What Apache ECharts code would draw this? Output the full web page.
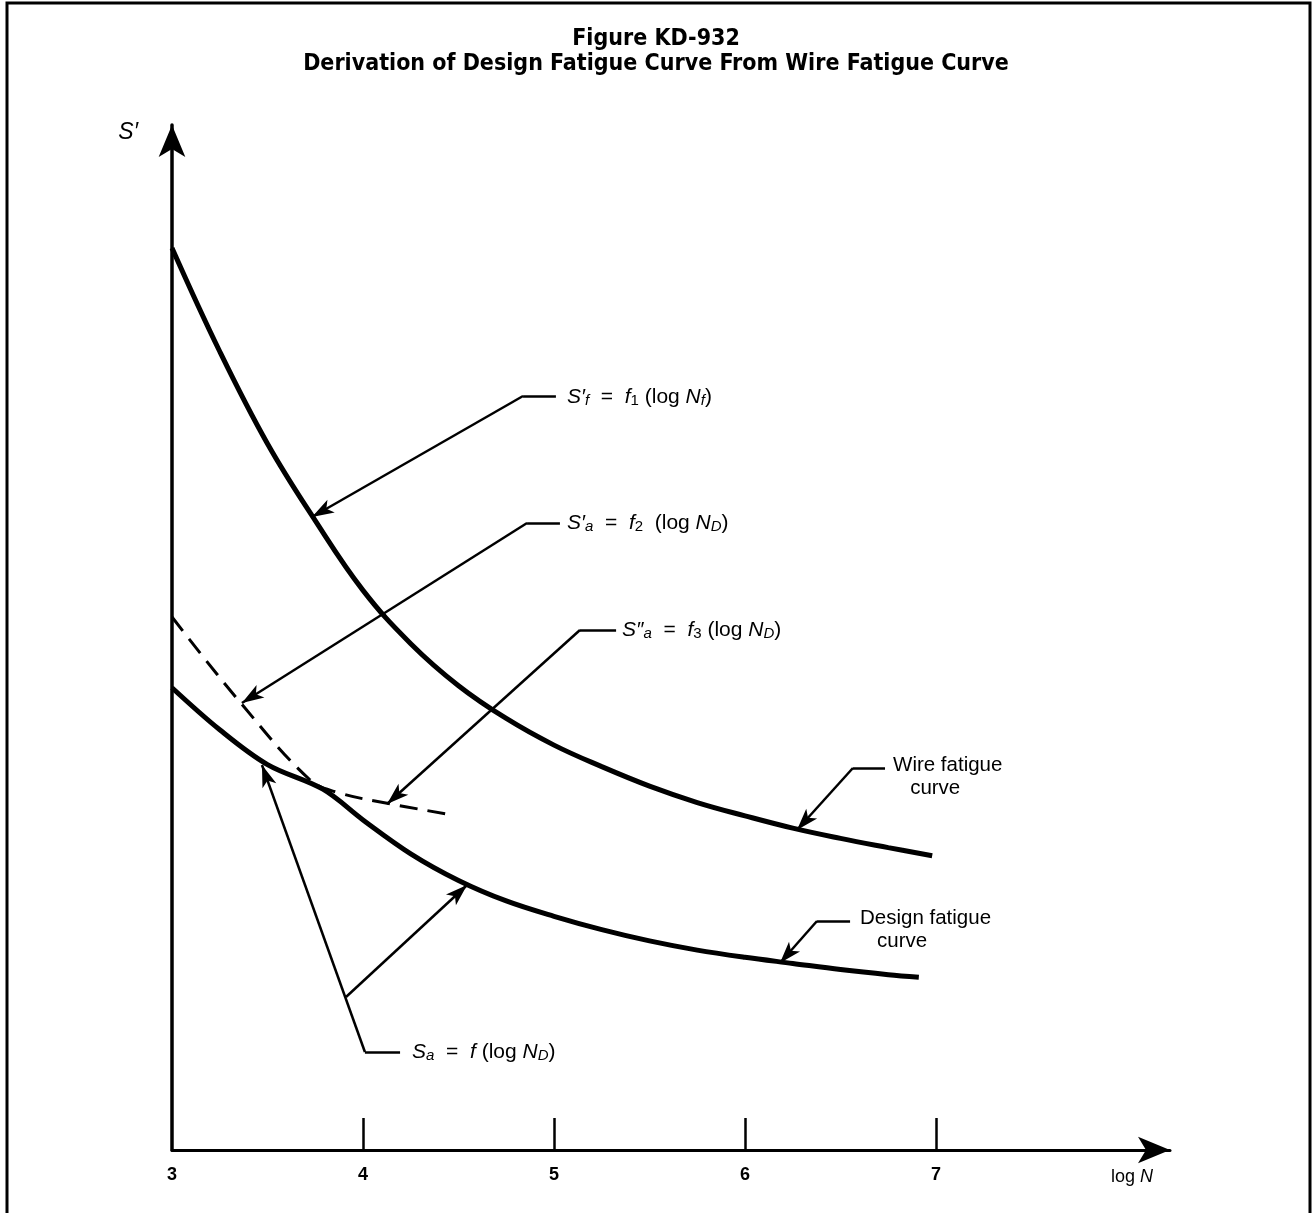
<!DOCTYPE html>
<html>
<head>
<meta charset="utf-8">
<title>Figure KD-932</title>
<script src="https://cdn.jsdelivr.net/npm/echarts@6/dist/echarts.min.js"></script>
<style>
  html, body { margin: 0; padding: 0; background: #fff; }
  #main { width: 1312px; height: 1213px; }
</style>
</head>
<body>
<div id="main"></div>
<script>
// x = log N, y = S' (arbitrary units, axis has no scale)
var xTicks = [3, 4, 5, 6, 7];
var tickMarks = [4, 5, 6, 7];

// wire fatigue curve  S'f = f1(log Nf)
var wireLogN = [3.0, 3.25, 3.5, 3.75, 4.0, 4.25, 4.5, 4.75, 5.0, 5.25, 5.5, 5.75, 6.0, 6.25, 6.5, 6.75, 6.98];
var wireS    = [88.0, 77.9, 68.9, 61.4, 54.6, 49.4, 45.3, 42.1, 39.5, 37.4, 35.5, 33.9, 32.6, 31.4, 30.4, 29.5, 28.7];

// design fatigue curve  Sa = f(log ND)
var designLogN = [3.0, 3.25, 3.5, 3.79, 4.0, 4.25, 4.5, 4.75, 5.0, 5.25, 5.5, 5.75, 6.0, 6.25, 6.5, 6.75, 6.91];
var designS    = [45.1, 41.0, 37.6, 35.2, 32.2, 28.9, 26.3, 24.3, 22.8, 21.5, 20.4, 19.5, 18.8, 18.2, 17.6, 17.1, 16.85];

// dashed curve (S'a / S''a)
var dashLogN = [3.0, 3.356, 3.723, 3.864, 4.105, 4.466];
var dashS    = [52.0, 43.7, 36.1, 34.9, 33.9, 32.7];

function pairs(xs, ys) {
  return xs.map(function (x, i) { return [x, ys[i]]; });
}

var myChart = echarts.init(document.getElementById('main'));

var font = 'Liberation Sans, Arial, sans-serif';
var rich = {
  n:    { fontSize: 21, fontFamily: font, color: '#000', lineHeight: 22 },
  i:    { fontSize: 21, fontFamily: font, color: '#000', lineHeight: 22, fontStyle: 'italic' },
  sub:  { fontSize: 15, fontFamily: font, color: '#000', lineHeight: 9, verticalAlign: 'bottom', fontStyle: 'italic' },
  subn: { fontSize: 15, fontFamily: font, color: '#000', lineHeight: 9, verticalAlign: 'bottom' },
  w:    { fontSize: 20.5, fontFamily: font, color: '#000', lineHeight: 23 }
};

// leader lines: [from, to, arrow at end?]
function seg(a, b, arrow) {
  return [
    { coord: a, symbol: 'none' },
    arrow ? { coord: b, symbol: 'arrow', symbolSize: [11, 22] }
          : { coord: b, symbol: 'none' }
  ];
}

var leaders = [
  seg([4.838, 73.56], [5.010, 73.56], false),
  seg([4.838, 73.56], [3.733, 61.76], true),
  seg([4.859, 61.17], [5.031, 61.17], false),
  seg([4.859, 61.17], [3.366, 43.61], true),
  seg([5.136, 50.73], [5.325, 50.73], false),
  seg([5.136, 50.73], [4.126, 33.76], true),
  seg([6.565, 37.27], [6.733, 37.27], false),
  seg([6.565, 37.27], [6.272, 31.22], true),
  seg([6.377, 22.34], [6.550, 22.34], false),
  seg([6.377, 22.34], [6.183, 18.24], true),
  seg([4.010, 9.56], [4.194, 9.56], false),
  seg([4.010, 9.56], [3.471, 37.56], true),
  seg([3.911, 14.93], [4.545, 25.85], true)
];

function note(coord, text) {
  return {
    coord: coord,
    symbolSize: 0,
    label: { show: true, position: 'right', distance: 0, formatter: text, rich: rich, align: 'left' }
  };
}

var notes = [
  note([5.068, 73.4], '{i|S′}{sub|f}{n|  =  }{i|f}{subn|1}{n| (log }{i|N}{sub|f}{n|)}'),
  note([5.068, 61.17], '{i|S′}{sub|a}{n|  =  }{i|f}{subn|2}{n|  (log }{i|N}{sub|D}{n|)}'),
  note([5.356, 50.73], '{i|S″}{sub|a}{n|  =  }{i|f}{subn|3}{n| (log }{i|N}{sub|D}{n|)}'),
  note([6.775, 36.44], '{w|Wire fatigue}\n{w|   curve}'),
  note([6.602, 21.51], '{w|Design fatigue}\n{w|   curve}'),
  note([4.257, 9.56], '{i|S}{sub|a}{n|  =  }{i|f}{n| (log }{i|N}{sub|D}{n|)}')
];

option = {
  backgroundColor: '#fff',
  animation: false,
  title: {
    text: 'Figure KD-932\nDerivation of Design Fatigue Curve From Wire Fatigue Curve',
    left: 'center',
    top: 22,
    textStyle: {
      fontSize: 23,
      fontWeight: 'bold',
      fontFamily: 'DejaVu Sans Condensed',
      color: '#000',
      lineHeight: 25
    }
  },
  graphic: [
    {
      type: 'polyline',
      shape: { points: [[7, 1213], [7, 3], [1310, 3], [1310, 1213]] },
      style: { stroke: '#000', lineWidth: 3, fill: null }
    }
  ],
  grid: { left: 172, right: 142, top: 125, bottom: 63, containLabel: false },
  xAxis: {
    type: 'value',
    min: 3,
    max: 8.225,
    interval: 1,
    name: '{n|log }{i|N}',
    nameLocation: 'end',
    nameGap: -38,
    nameTextStyle: {
      align: 'center',
      verticalAlign: 'top',
      padding: [18, 0, 0, 0],
      rich: {
        n: { fontSize: 18, fontFamily: font, color: '#000' },
        i: { fontSize: 18, fontFamily: font, color: '#000', fontStyle: 'italic' }
      }
    },
    axisLine: {
      show: true,
      symbol: ['none', 'arrow'],
      symbolSize: [20, 32],
      lineStyle: { color: '#000', width: 3 }
    },
    axisTick: {
      show: true,
      inside: true,
      length: 32,
      customValues: tickMarks,
      lineStyle: { color: '#000', width: 2.5 }
    },
    axisLabel: {
      show: true,
      margin: 16,
      customValues: xTicks,
      fontSize: 18,
      fontWeight: 'bold',
      fontFamily: font,
      color: '#000',
      formatter: function (v) { return v <= 7 ? String(v) : ''; }
    },
    splitLine: { show: false }
  },
  yAxis: {
    type: 'value',
    min: 0,
    max: 100,
    name: 'S′',
    nameLocation: 'end',
    nameGap: -8,
    nameTextStyle: {
      align: 'right',
      verticalAlign: 'middle',
      padding: [0, 34, 0, 0],
      fontSize: 23,
      fontStyle: 'italic',
      fontFamily: font,
      color: '#000'
    },
    axisLine: {
      show: true,
      symbol: ['none', 'arrow'],
      symbolSize: [20, 32],
      lineStyle: { color: '#000', width: 3.5 }
    },
    axisTick: { show: false },
    axisLabel: { show: false },
    splitLine: { show: false }
  },
  series: [
    {
      name: 'Wire fatigue curve',
      type: 'line',
      data: pairs(wireLogN, wireS),
      smooth: 0.4,
      showSymbol: false,
      lineStyle: { color: '#000', width: 5 }
    },
    {
      name: 'Design fatigue curve',
      type: 'line',
      data: pairs(designLogN, designS),
      smooth: 0.35,
      showSymbol: false,
      lineStyle: { color: '#000', width: 5 }
    },
    {
      name: 'S\'a / S\'\'a',
      type: 'line',
      data: pairs(dashLogN, dashS),
      smooth: 0.4,
      showSymbol: false,
      lineStyle: { color: '#000', width: 3, type: [18, 10] }
    },
    {
      name: 'notes',
      type: 'line',
      data: [],
      silent: true,
      markLine: {
        silent: true,
        symbol: 'none',
        label: { show: false },
        lineStyle: { color: '#000', width: 2.5, type: 'solid' },
        emphasis: { disabled: true },
        data: leaders
      },
      markPoint: {
        silent: true,
        symbol: 'circle',
        symbolSize: 0,
        itemStyle: { color: 'rgba(0,0,0,0)' },
        data: notes
      }
    }
  ]
};

myChart.setOption(option);
</script>
</body>
</html>
